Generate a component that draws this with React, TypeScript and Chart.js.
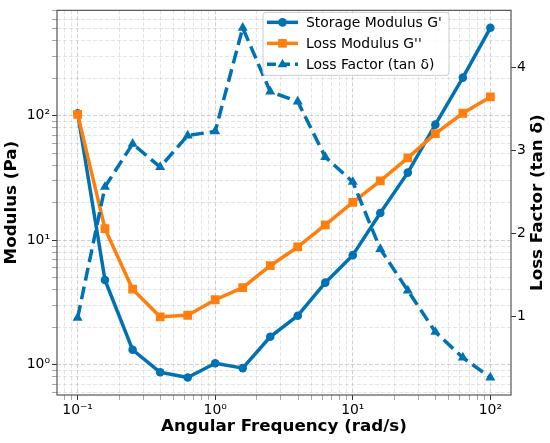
import { useEffect, useRef } from 'react';
import { Chart, registerables } from 'chart.js';

Chart.register(...registerables);

// angular frequency (rad/s), 5 points per decade
const frequency = [0.1, 0.158, 0.251, 0.398, 0.631, 1, 1.585, 2.512, 3.981, 6.31, 10, 15.85, 25.12, 39.81, 63.1, 100];
const storageModulus = [105, 4.8, 1.32, 0.87, 0.79, 1.03, 0.94, 1.68, 2.48, 4.57, 7.6, 16.6, 35, 85, 203, 510];
const lossModulus = [103, 12.4, 4.05, 2.43, 2.5, 3.33, 4.17, 6.25, 8.85, 13.3, 20.2, 30, 46, 72, 105, 142];
const lossFactor = [0.98, 2.56, 3.08, 2.8, 3.18, 3.23, 4.48, 3.71, 3.59, 2.92, 2.62, 1.81, 1.31, 0.81, 0.5, 0.26];

const xTickValues = [0.1, 1, 10, 100];
const xTickLabels = ['10⁻¹', '10⁰', '10¹', '10²'];
const yTickValues = [1, 10, 100];
const yTickLabels = ['10⁰', '10¹', '10²'];
const y2TickValues = [1, 2, 3, 4];
const y2TickLabels = ['1', '2', '3', '4'];

const BLUE = '#0072B2';
const ORANGE = '#FF7F0E';
const FONT = "'DejaVu Sans', sans-serif";
const Y2_TITLE = 'Loss Factor (tan δ)';

// matplotlib style 5% margins
const logLimits = (vals: number[]) => {
  const lo = Math.log10(Math.min(...vals));
  const hi = Math.log10(Math.max(...vals));
  const m = (hi - lo) * 0.05;
  return [Math.pow(10, lo - m), Math.pow(10, hi + m)];
};
const linLimits = (vals: number[]) => {
  const lo = Math.min(...vals);
  const hi = Math.max(...vals);
  const m = (hi - lo) * 0.05;
  return [lo - m, hi + m];
};

const [xMin, xMax] = logLimits(frequency);
const [yMin, yMax] = logLimits([...storageModulus, ...lossModulus]);
const [y2Min, y2Max] = linLimits(lossFactor);

// 1..9 x 10^n inside the range, used for the major + minor grid
const logGrid = (min: number, max: number) => {
  const out: number[] = [];
  for (let e = Math.floor(Math.log10(min)); e <= Math.ceil(Math.log10(max)); e++) {
    for (let m = 1; m < 10; m++) {
      const v = m * Math.pow(10, e);
      if (v > min && v < max) out.push(v);
    }
  }
  return out;
};

const findTick = (list: number[], v: number) => list.findIndex((t) => Math.abs(t - v) / t < 1e-6);

const majorGrid = 'rgba(170,170,170,0.55)';
const minorGrid = 'rgba(170,170,170,0.32)';

const legendItems = [
  { label: "Storage Modulus G'", color: BLUE, dash: [] as number[], marker: 'circle' },
  { label: "Loss Modulus G''", color: ORANGE, dash: [] as number[], marker: 'square' },
  { label: 'Loss Factor (tan δ)', color: BLUE, dash: [9, 5], marker: 'triangle' },
];

const drawMarker = (ctx: CanvasRenderingContext2D, kind: string, x: number, y: number) => {
  ctx.beginPath();
  if (kind === 'circle') ctx.arc(x, y, 4.3, 0, Math.PI * 2);
  else if (kind === 'square') ctx.rect(x - 4.3, y - 4.3, 8.6, 8.6);
  else {
    ctx.moveTo(x, y - 5.5);
    ctx.lineTo(x + 4.8, y + 2.8);
    ctx.lineTo(x - 4.8, y + 2.8);
    ctx.closePath();
  }
  ctx.fill();
};

const framePlugin = {
  id: 'frameAndLegend',
  afterDraw(chart: any) {
    const { ctx, chartArea } = chart;
    ctx.save();
    ctx.strokeStyle = '#555';
    ctx.lineWidth = 1.2;
    ctx.strokeRect(chartArea.left, chartArea.top, chartArea.right - chartArea.left, chartArea.bottom - chartArea.top);

    // right axis title reads bottom to top, as in matplotlib
    ctx.save();
    ctx.translate(chart.width - 12.5, (chartArea.top + chartArea.bottom) / 2);
    ctx.rotate(-Math.PI / 2);
    ctx.fillStyle = '#000';
    ctx.font = `bold 16.7px ${FONT}`;
    ctx.textAlign = 'center';
    ctx.textBaseline = 'middle';
    ctx.fillText(Y2_TITLE, 0, 0);
    ctx.restore();

    // legend box, top right of centre like matplotlib's "best"
    const lx = chartArea.left + 206;
    const ly = chartArea.top + 2;
    const lw = 186;
    const lh = 63;
    ctx.beginPath();
    ctx.roundRect(lx, ly, lw, lh, 3);
    ctx.fillStyle = 'rgba(255,255,255,0.85)';
    ctx.fill();
    ctx.strokeStyle = '#cccccc';
    ctx.lineWidth = 1;
    ctx.stroke();

    legendItems.forEach((item, i) => {
      const y = ly + 10 + i * 21;
      ctx.strokeStyle = item.color;
      ctx.fillStyle = item.color;
      ctx.lineWidth = 3.5;
      ctx.setLineDash(item.dash);
      ctx.beginPath();
      ctx.moveTo(lx + 4, y);
      ctx.lineTo(lx + 35, y);
      ctx.stroke();
      ctx.setLineDash([]);
      drawMarker(ctx, item.marker, lx + 19.5, y);
      ctx.fillStyle = '#000';
      ctx.font = `13.9px ${FONT}`;
      ctx.textBaseline = 'middle';
      ctx.textAlign = 'left';
      ctx.fillText(item.label, lx + 43, y + 1);
    });
    ctx.restore();
  },
};

const tickFont = { family: FONT, size: 13.9 };
const titleFont = { family: FONT, size: 16.7, weight: 'bold' as const };

export default function App() {
  const canvasRef = useRef<HTMLCanvasElement>(null);

  useEffect(() => {
    document.body.style.margin = '0';
    const chart = new Chart(canvasRef.current!, {
      type: 'line',
      data: {
        datasets: [
          {
            label: "Storage Modulus G'",
            data: frequency.map((x, i) => ({ x, y: storageModulus[i] })),
            borderColor: BLUE,
            backgroundColor: BLUE,
            borderWidth: 3.5,
            borderJoinStyle: 'round',
            pointStyle: 'circle',
            pointRadius: 4.3,
            pointBorderWidth: 0,
            yAxisID: 'y',
            order: 3,
          },
          {
            label: "Loss Modulus G''",
            data: frequency.map((x, i) => ({ x, y: lossModulus[i] })),
            borderColor: ORANGE,
            backgroundColor: ORANGE,
            borderWidth: 3.5,
            borderJoinStyle: 'round',
            pointStyle: 'rect',
            pointRadius: 6.2,
            pointBorderWidth: 0,
            yAxisID: 'y',
            order: 2,
          },
          {
            label: 'Loss Factor (tan δ)',
            data: frequency.map((x, i) => ({ x, y: lossFactor[i] })),
            borderColor: BLUE,
            backgroundColor: BLUE,
            borderWidth: 3.5,
            borderDash: [13, 6],
            borderJoinStyle: 'round',
            pointStyle: 'triangle',
            pointRadius: 5.8,
            pointBorderWidth: 0,
            yAxisID: 'y2',
            order: 1,
          },
        ],
      },
      options: {
        animation: false,
        responsive: true,
        maintainAspectRatio: false,
        events: [],
        layout: { padding: { top: 7, left: 0, right: 0, bottom: 0 } },
        plugins: { legend: { display: false }, tooltip: { enabled: false } },
        scales: {
          x: {
            type: 'logarithmic',
            min: xMin,
            max: xMax,
            afterBuildTicks: (axis: any) => {
              axis.ticks = logGrid(xMin, xMax).map((value) => ({ value }));
            },
            afterFit: (axis: any) => {
              axis.height = 48;
            },
            border: { display: false, dash: [4, 2] },
            grid: {
              color: (c: any) => (findTick(xTickValues, c.tick?.value) >= 0 ? majorGrid : minorGrid),
              tickColor: (c: any) => (findTick(xTickValues, c.tick?.value) >= 0 ? '#333' : 'rgba(0,0,0,0.35)'),
              tickLength: 5,
              lineWidth: 1,
            },
            ticks: {
              autoSkip: false,
              maxRotation: 0,
              padding: 2,
              color: '#000',
              font: tickFont,
              callback: (v: any) => {
                const i = findTick(xTickValues, Number(v));
                return i >= 0 ? xTickLabels[i] : '';
              },
            },
            title: {
              display: true,
              text: 'Angular Frequency (rad/s)',
              color: '#000',
              font: titleFont,
              padding: { top: 0, bottom: 6 },
            },
          },
          y: {
            type: 'logarithmic',
            position: 'left',
            min: yMin,
            max: yMax,
            afterBuildTicks: (axis: any) => {
              axis.ticks = logGrid(yMin, yMax).map((value) => ({ value }));
            },
            afterFit: (axis: any) => {
              axis.width = 57;
            },
            border: { display: false, dash: [4, 2] },
            grid: {
              color: (c: any) => (findTick(yTickValues, c.tick?.value) >= 0 ? majorGrid : minorGrid),
              tickColor: (c: any) => (findTick(yTickValues, c.tick?.value) >= 0 ? '#333' : 'rgba(0,0,0,0.35)'),
              tickLength: 5,
              lineWidth: 1,
            },
            ticks: {
              autoSkip: false,
              padding: 2,
              color: '#000',
              font: tickFont,
              callback: (v: any) => {
                const i = findTick(yTickValues, Number(v));
                return i >= 0 ? yTickLabels[i] : '';
              },
            },
            title: {
              display: true,
              text: 'Modulus (Pa)',
              color: '#000',
              font: titleFont,
              padding: { top: 2, bottom: 0 },
            },
          },
          y2: {
            type: 'linear',
            position: 'right',
            min: y2Min,
            max: y2Max,
            afterBuildTicks: (axis: any) => {
              axis.ticks = y2TickValues.map((value) => ({ value }));
            },
            afterFit: (axis: any) => {
              axis.width = 39;
            },
            border: { display: false },
            grid: { drawOnChartArea: false, tickColor: '#333', tickLength: 5 },
            ticks: {
              autoSkip: false,
              padding: 1,
              color: '#000',
              font: tickFont,
              callback: (v: any) => {
                const i = findTick(y2TickValues, Number(v));
                return i >= 0 ? y2TickLabels[i] : '';
              },
            },
            title: { display: false },
          },
        },
      },
      plugins: [framePlugin],
    } as any);
    return () => chart.destroy();
  }, []);

  return (
    <div style={{ position: 'relative', width: 550, height: 443 }}>
      <canvas ref={canvasRef} />
    </div>
  );
}
